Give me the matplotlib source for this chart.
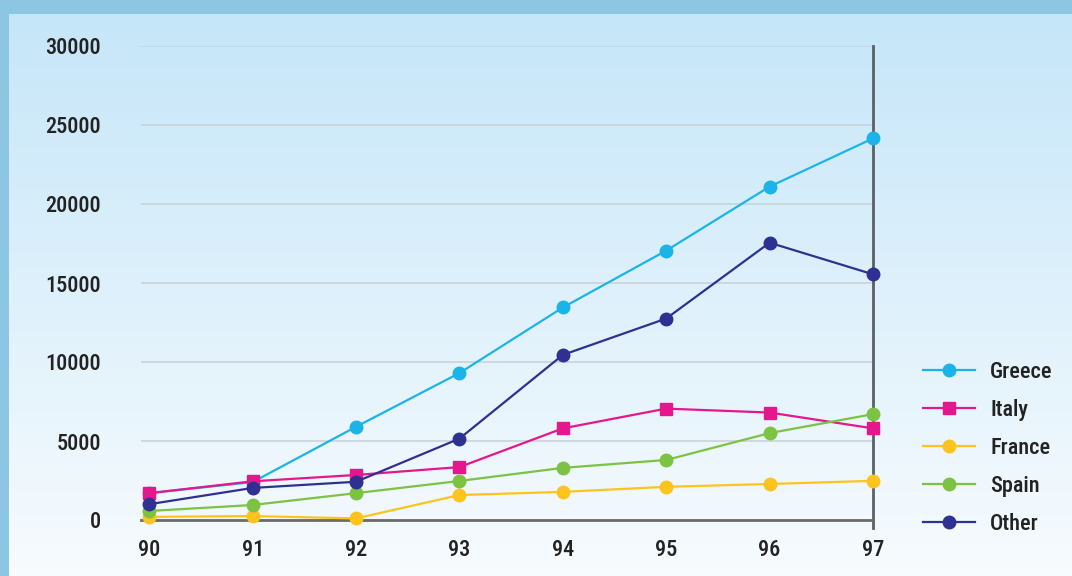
import numpy as np
import matplotlib.pyplot as plt
from matplotlib.patches import Rectangle

years = [90, 91, 92, 93, 94, 95, 96, 97]
year_labels = ['90', '91', '92', '93', '94', '95', '96', '97']

greece = [1700, 2400, 5900, 9300, 13450, 17050, 21100, 24150]
italy = [1700, 2450, 2850, 3350, 5800, 7050, 6800, 5800]
france = [200, 250, 100, 1580, 1780, 2100, 2280, 2480]
spain = [570, 950, 1700, 2470, 3300, 3800, 5500, 6700]
other = [1000, 2030, 2420, 5150, 10450, 12750, 17550, 15550]

series = [
    ('Greece', greece, '#1bb4e8', 'o'),
    ('Italy', italy, '#e6168c', 's'),
    ('France', france, '#fdc41e', 'o'),
    ('Spain', spain, '#7cc243', 'o'),
    ('Other', other, '#2e3191', 'o'),
]

plt.rcParams['font.family'] = ['Roboto Condensed', 'Sofia Sans Condensed', 'DejaVu Sans']
plt.rcParams['font.weight'] = 'medium'

fig = plt.figure(figsize=(10.72, 5.76), dpi=100)

# background gradient + border
bg = fig.add_axes([0, 0, 1, 1], zorder=-2)
top = np.array([0.77, 0.90, 0.975])
bottom = np.array([0.97, 0.985, 0.995])
t = np.linspace(0, 1, 256)[:, None]
grad = top + (bottom - top) * t
bg.imshow(grad[:, None, :].repeat(4, axis=1), aspect='auto', extent=[0, 1, 0, 1])
bg.add_patch(Rectangle((0, 1 - 14 / 576), 1, 14 / 576, color='#8dc6e2', lw=0))
bg.add_patch(Rectangle((0, 0), 9 / 1072, 1, color='#8dc6e2', lw=0))
bg.set_xlim(0, 1)
bg.set_ylim(0, 1)
bg.axis('off')

ax = fig.add_axes([141 / 1072, 56 / 576, 732 / 1072, 474 / 576])
ax.patch.set_alpha(0)

for name, vals, color, marker in series:
    ax.plot(years, vals, color=color, lw=1.6, marker=marker,
            ms=9 if marker == 'o' else 8, label=name, clip_on=False, zorder=3)

ax.set_xlim(89.92, 97)
ax.set_ylim(0, 30000)
ax.set_yticks(range(0, 30001, 5000))
ax.set_xticks(years)
ax.set_xticklabels(year_labels)
ax.yaxis.grid(True, color='#c9d3d9', lw=1.2)
ax.set_axisbelow(True)

for s in ['top', 'left', 'right']:
    ax.spines[s].set_visible(False)
ax.spines['bottom'].set_color('#6b6b6b')
ax.spines['bottom'].set_linewidth(2)
ax.plot([97, 97], [-0.016, 1], transform=ax.get_xaxis_transform(),
        color='#5b5f66', lw=2, clip_on=False, zorder=2)

ax.tick_params(axis='both', length=0, labelsize=16, labelcolor='#222222')
ax.tick_params(axis='y', pad=29)
ax.tick_params(axis='x', pad=14)

leg = ax.legend(loc='upper left', bbox_to_anchor=(1.068, 0.336), frameon=False,
                fontsize=16, handlelength=2.35, labelspacing=0.72,
                handletextpad=0.68, borderaxespad=0, borderpad=0)
for txt in leg.get_texts():
    txt.set_color('#222222')

fig.savefig('out.png', dpi=100)
